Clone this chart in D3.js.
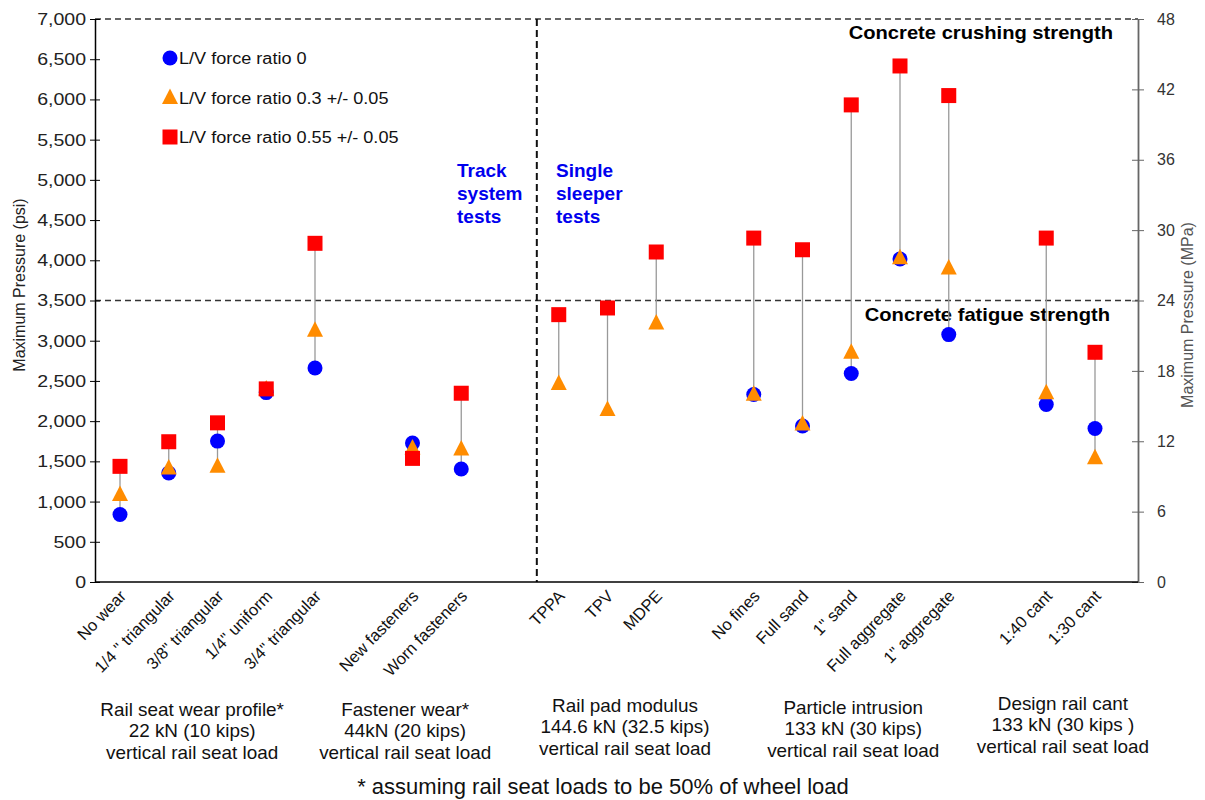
<!DOCTYPE html>
<html><head><meta charset="utf-8">
<script src="https://cdn.jsdelivr.net/npm/d3@7"></script>
<style>body{margin:0;background:#fff;} text{font-family:"Liberation Sans",Arial,sans-serif;}</style>
</head><body><svg id="c" width="1205" height="800"></svg>
<script>
// Slots (null = empty gap)
const categories = ["No wear","1/4 \" triangular","3/8\" triangular","1/4\" uniform","3/4\" triangular",null,
  "New fasteners","Worn fasteners",null,"TPPA","TPV","MDPE",null,
  "No fines","Full sand","1\" sand","Full aggregate","1\" aggregate",null,"1:40 cant","1:30 cant"];
const ratio0   = [839,1355,1752,2355,2661,null,1727,1405,null,null,null,null,null,2331,1940,2592,4016,3076,null,2207,1909];
const ratio03  = [1087,1417,1438,2400,3131,null,1665,1653,null,2467,2145,3221,null,2335,1965,2856,4030,3904,null,2352,1545];
const ratio055 = [1438,1744,1979,2401,4211,null,1537,2347,null,3324,3407,4103,null,4276,4131,5932,6416,6048,null,4276,2856];
const psiTicks = [0,500,1000,1500,2000,2500,3000,3500,4000,4500,5000,5500,6000,6500,7000];
const mpaTicks = [0,6,12,18,24,30,36,42,48];
const thresholds = [{v:7000,label:"Concrete crushing strength"},{v:3500,label:"Concrete fatigue strength"}];
const legendItems = [{s:"circle",label:"L/V force ratio 0"},{s:"triangle",label:"L/V force ratio 0.3 +/- 0.05"},{s:"square",label:"L/V force ratio 0.55 +/- 0.05"}];
const groups = [
  {c:1.48, lines:["Rail seat wear profile*","22 kN (10 kips)","vertical rail seat load"]},
  {c:5.85, lines:["Fastener wear*","44kN (20 kips)","vertical rail seat load"]},
  {c:10.36, lines:["Rail pad modulus","144.6 kN (32.5 kips)","vertical rail seat load"]},
  {c:15.04, lines:["Particle intrusion","133 kN (30 kips)","vertical rail seat load"]},
  {c:19.34, lines:["Design rail cant","133 kN (30 kips )","vertical rail seat load"]}];
const groupY = [710,710,706,708,704];

const svg = d3.select("#c");
const L=95, R=1138, T=19, B=582;
const x = d3.scaleLinear().domain([0,20]).range([120,1095]);
const y = d3.scaleLinear().domain([0,7000]).range([B,T]);
const y2 = d3.scaleLinear().domain([0,48]).range([B,T]);

function stext(g,px,py,sx,txt){
  return g.append("text").attr("transform",`translate(${px},${py}) scale(${sx},1)`).text(txt);
}

// threshold dashed lines
thresholds.forEach(t=>{
  svg.append("line").attr("x1",L).attr("x2",R).attr("y1",y(t.v)).attr("y2",y(t.v))
    .attr("stroke","#333").attr("stroke-width",1.5).attr("stroke-dasharray","6,4");
});
// vertical divider
svg.append("line").attr("x1",x(8.55)).attr("x2",x(8.55)).attr("y1",T).attr("y2",B)
  .attr("stroke","#111").attr("stroke-width",2).attr("stroke-dasharray","7,4");

// threshold labels
stext(svg,1113,39,1.12,thresholds[0].label).attr("text-anchor","end").attr("font-size",18).attr("font-weight","bold");
stext(svg,1110,321,1.12,thresholds[1].label).attr("text-anchor","end").attr("font-size",18).attr("font-weight","bold");

// annotations
["Track","system","tests"].forEach((d,i)=>{
  svg.append("text").attr("x",457).attr("y",177+i*23).attr("fill","#0000ee").attr("font-size",19).attr("font-weight","bold").text(d);
});
["Single","sleeper","tests"].forEach((d,i)=>{
  svg.append("text").attr("x",556).attr("y",177+i*23).attr("fill","#0000ee").attr("font-size",19).attr("font-weight","bold").text(d);
});

// range lines
categories.forEach((c,i)=>{
  if(c===null) return;
  const vals=[ratio0[i],ratio03[i],ratio055[i]].filter(v=>v!=null);
  svg.append("line").attr("x1",x(i)).attr("x2",x(i)).attr("y1",y(d3.min(vals))).attr("y2",y(d3.max(vals)))
    .attr("stroke","#999").attr("stroke-width",1.3);
});

// axes
const axL = svg.append("g").attr("transform",`translate(${L},0)`)
  .call(d3.axisLeft(y).tickValues(psiTicks).tickFormat(d3.format(",")).tickSizeInner(5).tickSizeOuter(0));
axL.selectAll(".tick line").attr("x2",5).attr("x1",-5);
axL.select(".domain").attr("stroke","#000").attr("stroke-width",1.5);
axL.selectAll(".tick text").attr("font-size",17).attr("fill","#222").attr("x",-9).attr("font-family","Liberation Sans, Arial")
  .attr("transform","scale(1.15,1)").attr("x",-9/1.15);
const axR = svg.append("g").attr("transform",`translate(${R},0)`)
  .call(d3.axisRight(y2).tickValues(mpaTicks).tickSizeInner(6).tickSizeOuter(0));
axR.selectAll(".tick line").attr("x1",-6).attr("x2",6).attr("stroke","#666");
axR.select(".domain").attr("stroke","#666").attr("stroke-width",1.8);
axR.selectAll(".tick text").attr("font-size",16).attr("fill","#333").attr("x",19).attr("font-family","Liberation Sans, Arial");
// x axis
svg.append("line").attr("x1",L).attr("x2",R).attr("y1",B).attr("y2",B).attr("stroke","#000").attr("stroke-width",1.5);

// axis titles
svg.append("text").attr("transform",`translate(25,${285}) rotate(-90)`).attr("text-anchor","middle").attr("font-size",16).attr("fill","#222").text("Maximum  Pressure (psi)");
svg.append("text").attr("transform",`translate(1193,${315}) rotate(-90)`).attr("text-anchor","middle").attr("font-size",16).attr("fill","#555").text("Maximum  Pressure (MPa)");

// markers
const gM = svg.append("g");
function drawSym(g,type,cx,cy){
  if(type==="circle") g.append("circle").attr("cx",cx).attr("cy",cy).attr("r",7.5).attr("fill","#0000ff");
  else if(type==="triangle") g.append("path").attr("d",`M${cx},${cy-9}L${cx+8},${cy+6.5}L${cx-8},${cy+6.5}Z`).attr("fill","#ff8c00");
  else g.append("rect").attr("x",cx-7.5).attr("y",cy-7.5).attr("width",15).attr("height",15).attr("fill","#ff0000");
}
ratio0.forEach((v,i)=>{ if(v!=null) drawSym(gM,"circle",x(i),y(v)); });
ratio03.forEach((v,i)=>{ if(v!=null) drawSym(gM,"triangle",x(i),y(v)); });
ratio055.forEach((v,i)=>{ if(v!=null) drawSym(gM,"square",x(i),y(v)); });

// legend
legendItems.forEach((d,i)=>{
  const ly=58+i*39.5;
  drawSym(svg,d.s,170,ly);
  stext(svg,179,ly+6,1.13,d.label).attr("font-size",16).attr("fill","#111");
});

// x tick labels
categories.forEach((c,i)=>{
  if(c===null) return;
  svg.append("text").attr("transform",`translate(${x(i)+7},${597}) rotate(-46)`).attr("text-anchor","end")
    .attr("font-size",16.5).attr("fill","#111").text(c);
});

// group labels
groups.forEach((g,k)=>{
  g.lines.forEach((t,j)=>{
    stext(svg,x(g.c),groupY[k]+6+j*21.3,1.05,t).attr("text-anchor","middle").attr("font-size",18).attr("fill","#111");
  });
});
// footer
svg.append("text").attr("x",603).attr("y",794).attr("text-anchor","middle").attr("font-size",22).attr("fill","#111").text("* assuming rail seat loads to be 50% of wheel load");
</script></body></html>
